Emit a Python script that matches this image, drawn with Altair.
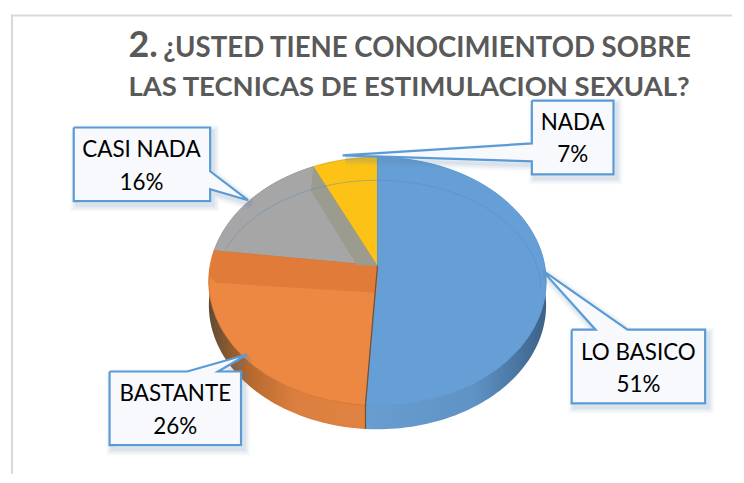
import math
import altair as alt
import pandas as pd

# ---- values
categories = ["LO BASICO", "BASTANTE", "CASI NADA", "NADA"]
percents = [51, 26, 16, 7]
top_colors = ["#669fd6", "#ec8842", "#a6a6a6", "#fcc316"]
edge_colors = ["#5b97cf", "#d9742f", "#9a9a9a", "#d8aa20"]
title_number = "2."
title_line1 = "¿USTED TIENE CONOCIMIENTOD SOBRE"
title_line2 = "LAS TECNICAS DE ESTIMULACION SEXUAL?"

# ---- layout (reference pixels)
W, H, SHIFT = 724, 467, 2
CX, CY, RX, RY, K, DEPTH = 378, 266, 168, 122.6, 0.1245, 24
callouts = {
    "CASI NADA": [(73, 127), (210, 127), (210, 171), (248, 200), (210, 189), (210, 201), (73, 201)],
    "NADA": [(533, 100), (615, 100), (615, 174), (533, 174), (533, 161), (343, 155), (533, 143)],
    "LO BASICO": [(573, 330), (597, 330), (543, 270), (629, 330), (707, 330), (707, 404), (573, 404)],
    "BASTANTE": [(109, 372), (187, 372), (247, 355), (218, 372), (241, 372), (241, 446), (109, 446)],
}
label_pos = {"CASI NADA": (141, 157, 190), "NADA": (574, 130, 162),
             "LO BASICO": (640, 360, 393), "BASTANTE": (175, 402, 435)}
FONT = "Lato"

xs = alt.Scale(domain=[8 + SHIFT, 8 + SHIFT + W], range=[0, W], nice=False, zero=False)
ys = alt.Scale(domain=[8, 8 + H], range=[0, H], nice=False, zero=False)


def rim(t, dy=0):
    u, v = math.sin(t), math.cos(t)
    d = 1 + K * v
    return (CX + RX * u / d, CY - RY * v / d + dy)


def arc(a, b, dy=0, n=60):
    return [rim(a + (b - a) * i / n, dy) for i in range(n + 1)]


def poly(pts, fill="transparent", stroke=None, sw=0, opacity=1, close=True):
    pts = list(pts) + ([pts[0]] if close else [])
    df = pd.DataFrame({"x": [p[0] for p in pts], "y": [p[1] for p in pts], "i": range(len(pts))})
    kw = dict(fill=fill, strokeWidth=sw, opacity=opacity, strokeJoin="miter", interpolate="linear", clip=False)
    kw["stroke"] = stroke if stroke else "transparent"
    return alt.Chart(df).mark_line(**kw).encode(
        x=alt.X("x:Q", scale=xs, axis=None),
        y=alt.Y("y:Q", scale=ys, axis=None),
        order="i:Q",
    )


def text(rows, size, color="#000000", weight="normal", align="center"):
    df = pd.DataFrame(rows, columns=["x", "y", "t"])
    return alt.Chart(df).mark_text(
        font=FONT, fontSize=size, color=color, fontWeight=weight, align=align, baseline="alphabetic"
    ).encode(x=alt.X("x:Q", scale=xs, axis=None), y=alt.Y("y:Q", scale=ys, axis=None), text="t:N")


# slice angles from the values
bounds = [0]
for p in percents:
    bounds.append(bounds[-1] + p / 100 * 2 * math.pi)
vertex = (CX, CY)
layers = []

# frame
layers.append(poly([(11, 8 + H), (11, 14.5), (8 + SHIFT + W, 14.5)], stroke="#d9d9d9", sw=2, close=False))

# pie wall
blue_wall = alt.Gradient(gradient="linear", x1=0, x2=1, y1=0, y2=0, stops=[
    alt.GradientStop(color="#699dd0", offset=0), alt.GradientStop(color="#5f93c6", offset=0.6),
    alt.GradientStop(color="#3c6288", offset=1)])
orange_wall = alt.Gradient(gradient="linear", x1=0, x2=1, y1=0, y2=0, stops=[
    alt.GradientStop(color="#5f4a36", offset=0), alt.GradientStop(color="#b5682c", offset=0.25),
    alt.GradientStop(color="#db7f40", offset=0.55), alt.GradientStop(color="#e08342", offset=1)])
a0, a1, a2 = math.pi / 2, bounds[1], 3 * math.pi / 2
layers.append(poly(arc(a0, a1) + arc(a1, a0, DEPTH), fill=blue_wall))
layers.append(poly(arc(a1, a2) + arc(a2, a1, DEPTH), fill=orange_wall))

# slice tops
for i in [2, 3, 1, 0]:
    layers.append(poly([vertex] + arc(bounds[i], bounds[i + 1]), fill=top_colors[i], stroke=edge_colors[i], sw=1))

# bevels
layers.append(poly([rim(bounds[2]), vertex, (377, 293), (216, 283), (209, 277)], fill="#e07b3a"))
layers.append(poly([rim(bounds[3]), vertex, (357, 265), (311, 190)], fill="#9c9b8f"))
layers.append(poly([vertex, rim(bounds[1]), rim(bounds[1], DEPTH)], stroke="#7a5028", sw=1.2, close=False))

# faint inner rim
ring = [(378 + 164 * math.sin(math.radians(d)), 290 - 110 * math.cos(math.radians(d))) for d in range(-68, 92, 2)]
layers.append(poly(ring, stroke="#4f8cc6", sw=1, opacity=0.45, close=False))

# callouts with soft shadow
for name, pts in callouts.items():
    off = [(x + 3, y + 4) for x, y in pts]
    for w, op in [(12, 0.05), (8, 0.07), (4, 0.10)]:
        layers.append(poly(off, stroke="#5b7fa8", sw=w, opacity=op))
for name, pts in callouts.items():
    layers.append(poly(pts, fill="#f7f9fd", stroke="#5b9bd5", sw=2.2))

# labels
for cat, pct in zip(categories, percents):
    x, y1, y2 = label_pos[cat]
    layers.append(text([(x, y1, cat), (x, y2, f"{pct}%")], 22.5))

# title
layers.append(text([(128, 56, title_number)], 36, "#595959", "bold", "left"))
layers.append(text([(163, 56, title_line1)], 27.7, "#595959", "bold", "left"))
layers.append(text([(128, 95, title_line2)], 27.55, "#595959", "bold", "left"))

chart = alt.layer(*layers).properties(width=W, height=H, padding=0, background="#ffffff").configure_view(stroke=None)
chart.save("out.html", embed_options={"renderer": "svg", "actions": False})
